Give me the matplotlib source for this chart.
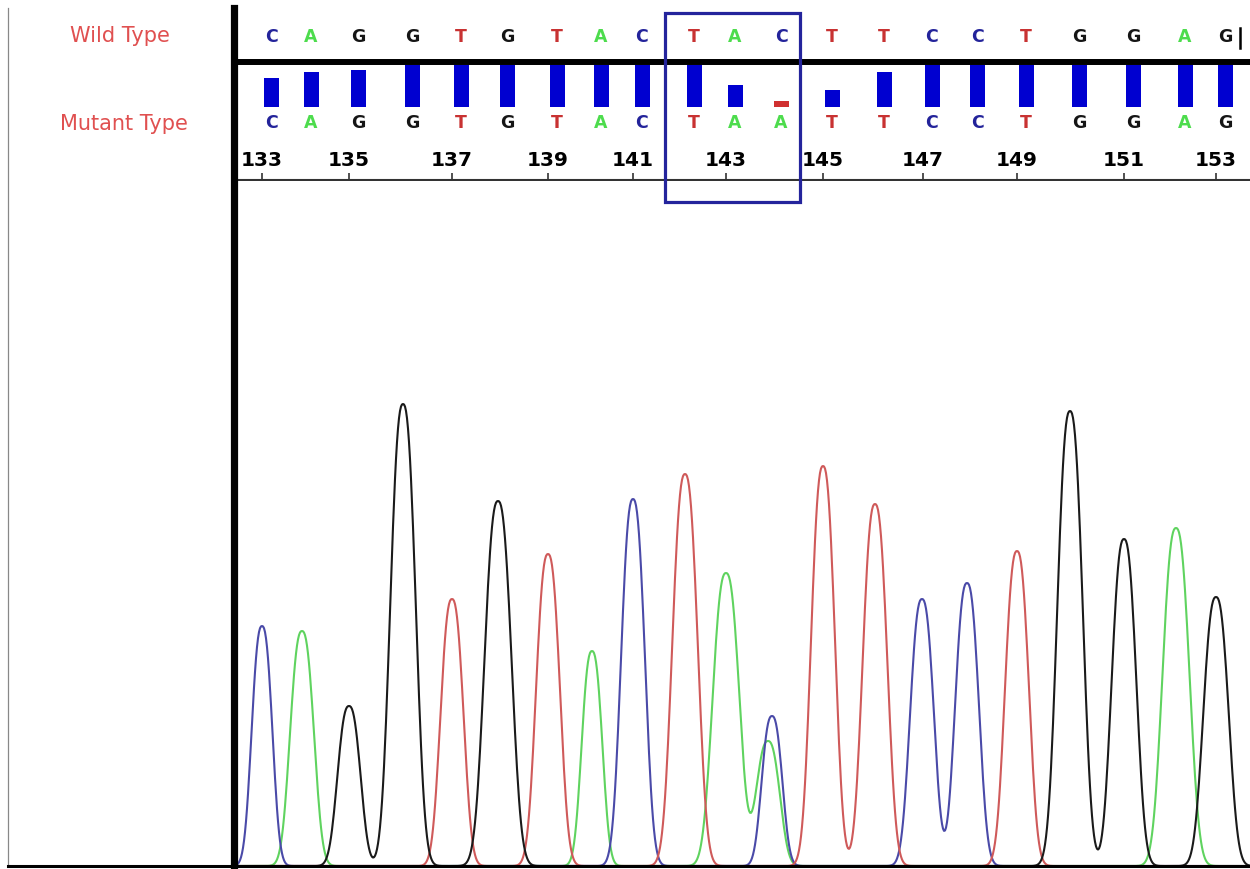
import numpy as np
import matplotlib.pyplot as plt
from matplotlib.lines import Line2D
from matplotlib.patches import Rectangle

# Base calls (positions on the scan axis)
base_no = list(range(133, 154))
wild_seq = list('CAGGTGTACTACTTCCTGGAG')
mut_seq = list('CAGGTGTACTAATTCCTGGAG')
call_pos = [29, 69, 116, 170, 219, 265, 315, 359, 400, 452, 493,
            539, 590, 642, 690, 735, 784, 837, 891, 943, 983]
quality = [29, 35, 37, 42, 42, 42, 42, 42, 42, 42, 22,
           6, 17, 35, 42, 42, 42, 42, 42, 42, 42]
qual_color = ['blue'] * 11 + ['red'] + ['blue'] * 9

# Trace peaks per dye channel: centre, height, width
c_pos = [29, 400, 539, 689, 734]
c_height = [240, 367, 150, 267, 283]
c_width = [13, 15, 13, 15, 15]

a_pos = [69, 359, 493, 535, 943]
a_height = [235, 215, 293, 125, 338]
a_width = [15, 13, 17, 15, 17]

g_pos = [116, 170, 265, 837, 891, 983]
g_height = [160, 462, 365, 455, 327, 269]
g_width = [14.5, 16, 17, 16, 15.5, 16]

t_pos = [219, 315, 452, 590, 642, 784]
t_height = [267, 312, 392, 400, 362, 315]
t_width = [14.5, 15, 16, 15, 15.5, 15]

mut_site = (142, 144)

letter_col = {'C': '#23239a', 'A': '#4ddc4d', 'G': '#151515', 'T': '#c83232'}
trace_col = {'C': '#4a4aa8', 'A': '#5fd35f', 'G': '#1a1a1a', 'T': '#cf5a5a'}

W, H = 1250, 869
fig = plt.figure(figsize=(W / 100, H / 100), dpi=100)
fig.patch.set_facecolor('white')

x_left = 234
xlim = (x_left - 233, W - 233)

# trace panel
ax = fig.add_axes([x_left / W, 3 / H, (W - x_left) / W, (866 - 181) / H])
ax.set_xlim(*xlim)
ax.set_ylim(0, 685)
ax.axis('off')

scan = np.arange(0, 1020, 1.0)


def channel(pos, height, width):
    y = np.zeros_like(scan)
    for p, h, w in zip(pos, height, width):
        y += h * np.exp(-np.abs((scan - p) / w) ** 2.5)
    return y


for key, pos, hh, ww in [('A', a_pos, a_height, a_width),
                         ('C', c_pos, c_height, c_width),
                         ('T', t_pos, t_height, t_width),
                         ('G', g_pos, g_height, g_width)]:
    ax.plot(scan, channel(pos, hh, ww), color=trace_col[key], lw=1.5)

# header panel (base calls, quality bars, position ruler)
top = fig.add_axes([x_left / W, (H - 181) / H, (W - x_left) / W, 181 / H])
top.set_xlim(*xlim)
top.set_ylim(181, 0)
top.axis('off')

off = 9
for p, wb, mb in zip(call_pos, wild_seq, mut_seq):
    top.text(p + off, 37, wb, ha='center', va='center', fontsize=12.5,
             fontweight='bold', color=letter_col[wb])
    top.text(p + off, 123, mb, ha='center', va='center', fontsize=12.5,
             fontweight='bold', color=letter_col[mb])

bar_x = [p + off for p in call_pos]
top.bar(bar_x, quality, width=15, bottom=[107 - q for q in quality],
        color=['#0000d0' if c == 'blue' else '#d03030' for c in qual_color])

top.axhline(62, color='black', lw=4.3)
top.plot([call_pos[-1] + off + 15] * 2, [28, 48], color='black', lw=1.8)

tick_pos = [p for p, n in zip(call_pos, base_no) if n % 2 == 1]
tick_lab = [n for n in base_no if n % 2 == 1]
top.axhline(180, color='#333333', lw=1.5)
top.vlines(tick_pos, 173, 180, color='#333333', lw=1.2)
for p, n in zip(tick_pos, tick_lab):
    top.text(p, 161, str(n), ha='center', va='center', fontsize=14.5,
             fontweight='bold', color='black')

i0 = base_no.index(mut_site[0])
i1 = base_no.index(mut_site[1])
x0 = call_pos[i0] - 20
x1 = call_pos[i1] + 28
top.add_patch(Rectangle((x0, 13), x1 - x0, 189, fill=False,
                        edgecolor='#24249c', lw=2.3, clip_on=False, zorder=5))

# frame lines
fig.add_artist(Line2D([x_left / W] * 2, [0, 1 - 8 / H], color='black', lw=5.2, zorder=10))
fig.add_artist(Line2D([8 / W] * 2, [3 / H, 1 - 8 / H], color='#888888', lw=0.9))
fig.add_artist(Line2D([8 / W, 1], [3 / H] * 2, color='black', lw=2.2, zorder=10))

fig.text(120 / W, 1 - 36 / H, 'Wild Type', ha='center', va='center',
         fontsize=15, color='#e05050')
fig.text(124 / W, 1 - 124 / H, 'Mutant Type', ha='center', va='center',
         fontsize=15, color='#e05050')

fig.savefig('out.png', dpi=100, facecolor='white')
